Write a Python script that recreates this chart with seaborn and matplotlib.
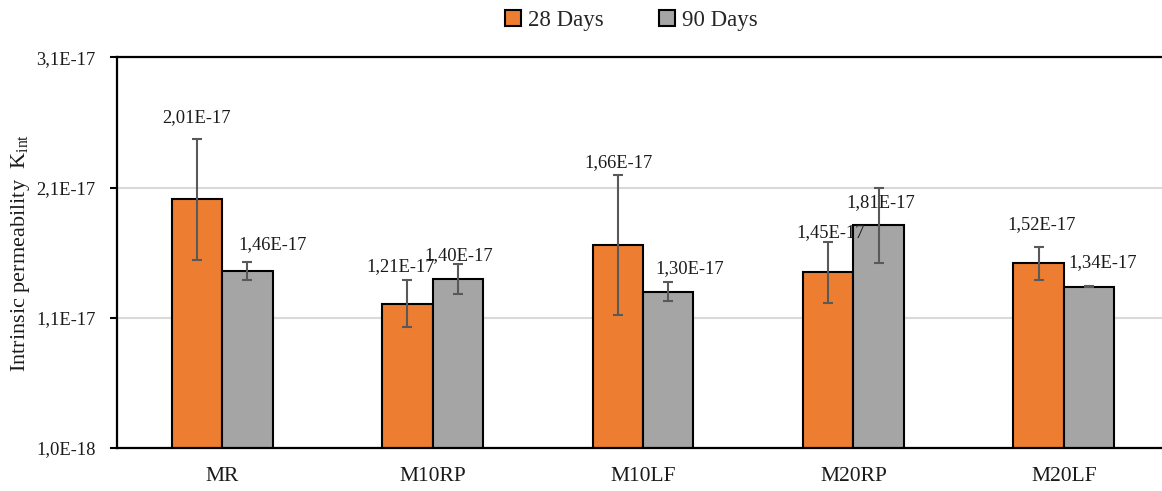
import matplotlib
matplotlib.use("Agg")
import matplotlib.pyplot as plt
from matplotlib.patches import Patch
from matplotlib.container import BarContainer
import seaborn as sns
import pandas as pd

# ---- data ----
categories = ["MR", "M10RP", "M10LF", "M20RP", "M20LF"]
series = ["28 Days", "90 Days"]
values_28 = [2.01e-17, 1.21e-17, 1.66e-17, 1.45e-17, 1.52e-17]
values_90 = [1.46e-17, 1.40e-17, 1.30e-17, 1.81e-17, 1.34e-17]
err_28 = [0.467e-17, 0.178e-17, 0.538e-17, 0.235e-17, 0.126e-17]
err_90 = [0.068e-17, 0.115e-17, 0.072e-17, 0.291e-17, 0.006e-17]
y_ticks = [1.0e-18, 1.1e-17, 2.1e-17, 3.1e-17]

# ---- style / layout ----
colors = ["#ED7D31", "#A5A5A5"]
# label offsets (pixels) relative to bar centre / bar top
offsets_28 = [(0, 82), (-7, 37), (1, 82), (2, 40), (3, 39)]
offsets_90 = [(25, 26), (1, 23), (21, 23), (2, 23), (14, 24)]

sns.set_style("white")
plt.rcParams["font.family"] = ["Liberation Serif", "DejaVu Serif"]
plt.rcParams["mathtext.fontset"] = "stix"

df = pd.DataFrame({
    "cat": categories * 2,
    "series": [series[0]] * len(categories) + [series[1]] * len(categories),
    "val": values_28 + values_90,
})

fig = plt.figure(figsize=(11.62, 4.91), dpi=100)
ax = fig.add_axes([117 / 1162, 43 / 491, 1052 / 1162, 390.5 / 491])

sns.barplot(data=df, x="cat", y="val", hue="series", order=categories,
            hue_order=series, palette=colors, width=0.48, gap=0,
            edgecolor="black", linewidth=1.5, errorbar=None, ax=ax,
            legend=False, saturation=1)

errs = [err_28, err_90]
vals = [values_28, values_90]
offs = [offsets_28, offsets_90]
bar_containers = [c for c in ax.containers if isinstance(c, BarContainer)]
for k, cont in enumerate(bar_containers):
    xs = [p.get_x() + p.get_width() / 2 for p in cont.patches]
    ax.errorbar(xs, vals[k], yerr=errs[k], fmt="none", ecolor="#595959",
                elinewidth=1.5, capsize=3.8, capthick=1.5, zorder=5)
    for x, v, (dx, dy) in zip(xs, vals[k], offs[k]):
        ax.annotate(f"{v:.2E}".replace(".", ","), xy=(x, v), xytext=(dx, dy),
                    textcoords="offset pixels", ha="center", va="center",
                    fontsize=13.3, color="#1a1a1a", zorder=6)

ax.set_xlim(-0.5, len(categories) - 0.5)
ax.set_ylim(y_ticks[0], y_ticks[-1])
ax.set_yticks(y_ticks)
ax.set_yticklabels([f"{t:.1E}".replace(".", ",") for t in y_ticks])
ax.set_axisbelow(True)
ax.yaxis.grid(True, color="#d9d9d9", linewidth=1.5)
ax.xaxis.grid(False)

ax.tick_params(axis="y", which="major", direction="out", length=5, width=1.5,
               color="black", labelsize=13.3, pad=10.5, left=True)
ax.tick_params(axis="x", length=0, labelsize=15.5, pad=14)
for lab in ax.get_xticklabels() + ax.get_yticklabels():
    lab.set_color("#1a1a1a")

for side in ["left", "bottom", "top"]:
    ax.spines[side].set_visible(True)
    ax.spines[side].set_color("black")
    ax.spines[side].set_linewidth(1.6)
ax.spines["right"].set_visible(False)

ax.set_xlabel("")
ax.set_ylabel(r"Intrinsic permeability  K$_\mathregular{int}$", fontsize=16,
              color="#1a1a1a")
ax.yaxis.set_label_coords(-0.081, 0.5)

handles = [Patch(facecolor=c, edgecolor="black", linewidth=1.5) for c in colors]
fig.legend(handles, series, loc="center", bbox_to_anchor=(0.5435, 0.959),
           ncol=2, frameon=False, fontsize=16.5, handlelength=0.7,
           handleheight=0.7, handletextpad=0.3, columnspacing=2.4)

fig.savefig("out.png", dpi=100)
